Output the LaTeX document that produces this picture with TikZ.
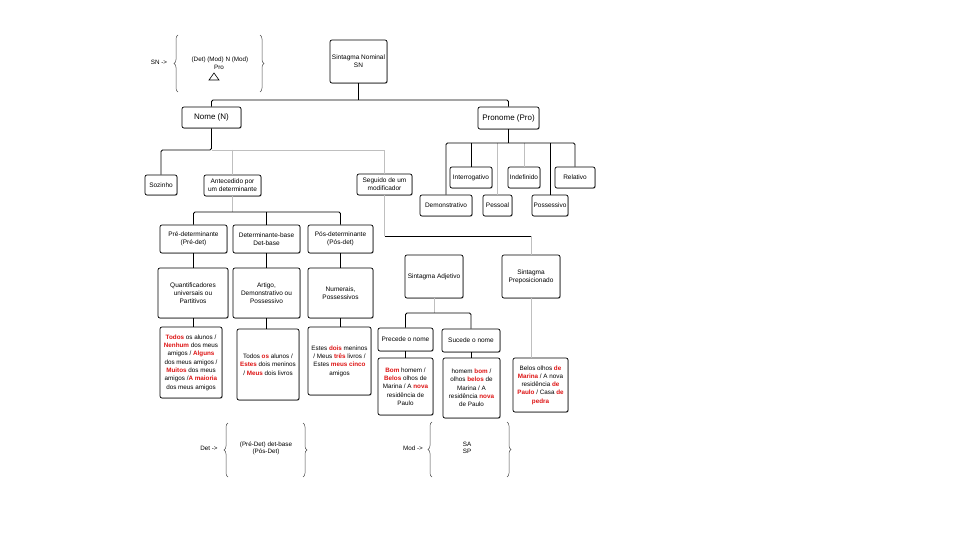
\documentclass[tikz,border=0pt]{standalone}
\usepackage{fontspec}
\setmainfont{Liberation Sans}
\usetikzlibrary{decorations.pathreplacing,shadows}
\definecolor{hlred}{RGB}{222,20,20}
\newcommand{\rdw}[1]{\textcolor{hlred}{\textbf{#1}}}
\begin{document}
\begin{tikzpicture}[x=1pt,y=-1pt,
  box/.style={draw=black, line width=0.7pt, rounded corners=2pt, align=center, inner sep=1pt,
    font=\fontsize{6.5}{7.8}\selectfont, fill=white,
    drop shadow={shadow xshift=0.7pt, shadow yshift=-0.7pt, opacity=0.35, fill=black}},
  bigbox/.style={box, font=\fontsize{8}{9.5}\selectfont},
  exbox/.style={box, font=\fontsize{6.3}{8.3}\selectfont},
  txt/.style={inner sep=0pt, align=center, font=\fontsize{6.3}{7}\selectfont},
  edge/.style={draw=black, line width=0.8pt, rounded corners=1.5pt},
  gedge/.style={draw=black!25, line width=0.6pt},
  brc/.style={draw=black!70, line width=0.5pt, decorate, decoration={brace, amplitude=4pt}}]
\fill[white] (0,0) rectangle (960,540);
\useasboundingbox (0,0) rectangle (960,540);

% top formula
\node[txt] (snlab) at (159,62) {SN ->};
\draw[brc] (178,92) -- (178,35);
\draw[brc] (260,35) -- (260,92);
\node[txt] (snform) at (220,60) {(Det) (Mod) N (Mod)};
\node[txt] (snpro) at (219,67.5) {Pro};
\draw[line width=0.6pt] (209,80) -- (214,73) -- (219,80) -- cycle;

% boxes
\node[box, minimum width=57pt, minimum height=43pt] (sn) at (358.5,61.5) {Sintagma Nominal\\SN};
\node[bigbox, minimum width=59pt, minimum height=21pt] (nome) at (211.5,117.5) {Nome (N)};
\node[bigbox, minimum width=61pt, minimum height=22pt] (pro) at (508.5,118) {Pronome (Pro)};

\node[box, minimum width=32pt, minimum height=20pt] (soz) at (161,185) {Sozinho};
\node[box, minimum width=57pt, minimum height=21pt] (ant) at (232.5,185.5) {Antecedido por\\um determinante};
\node[box, minimum width=55pt, minimum height=21pt] (seg) at (384.5,184.5) {Seguido de um\\modificador};

\node[box, minimum width=42pt, minimum height=21pt] (inter) at (471,177.5) {Interrogativo};
\node[box, minimum width=32pt, minimum height=21pt] (indef) at (524,177.5) {Indefinido};
\node[box, minimum width=40pt, minimum height=21pt] (rel) at (575,177.5) {Relativo};
\node[box, minimum width=52pt, minimum height=21pt] (dem) at (446,205.5) {Demonstrativo};
\node[box, minimum width=29pt, minimum height=21pt] (pes) at (497.5,205.5) {Pessoal};
\node[box, minimum width=36pt, minimum height=21pt] (poss) at (550,205.5) {Possessivo};

\node[box, minimum width=67pt, minimum height=28pt] (pre) at (193.5,239) {Pré-determinante\\(Pré-det)};
\node[box, minimum width=67pt, minimum height=28pt] (detb) at (266.5,239) {Determinante-base\\Det-base};
\node[box, minimum width=65pt, minimum height=28pt] (pos) at (340.5,239) {Pós-determinante\\(Pós-det)};

\node[box, minimum width=70pt, minimum height=50pt] (quant) at (193,293) {Quantificadores\\universais ou\\Partitivos};
\node[box, minimum width=67pt, minimum height=50pt] (art) at (266.5,293) {Artigo,\\Demonstrativo ou\\Possessivo};
\node[box, minimum width=65pt, minimum height=50pt] (num) at (340.5,293) {Numerais,\\Possessivos};

\node[exbox, minimum width=62pt, minimum height=71pt] (ex1) at (191,362.5)
  {\rdw{Todos} os alunos /\\\rdw{Nenhum} dos meus\\amigos / \rdw{Alguns}\\dos meus amigos /\\\rdw{Muitos} dos meus\\amigos /\rdw{A maioria}\\dos meus amigos};
\node[exbox, minimum width=62pt, minimum height=71pt] (ex2) at (268,364.5)
  {Todos \rdw{os} alunos /\\\rdw{Estes} dois meninos\\/ \rdw{Meus} dois livros};
\node[exbox, minimum width=63pt, minimum height=68pt] (ex3) at (339.5,361)
  {Estes \rdw{dois} meninos\\/ Meus \rdw{três} livros /\\Estes \rdw{meus cinco}\\amigos};

\node[box, minimum width=58pt, minimum height=43pt] (sa) at (434,276.5) {Sintagma Adjetivo};
\node[box, minimum width=58pt, minimum height=43pt] (sp) at (531,276.5) {Sintagma\\Preposicionado};
\node[box, minimum width=55pt, minimum height=23pt] (prec) at (405.5,339.5) {Precede o nome};
\node[box, minimum width=58pt, minimum height=23pt] (suc) at (471,340.5) {Sucede o nome};

\node[exbox, minimum width=55pt, minimum height=57pt] (ex4) at (405.5,386.5)
  {\rdw{Bom} homem /\\\rdw{Belos} olhos de\\Marina / A \rdw{nova}\\residência de\\Paulo};
\node[exbox, minimum width=57pt, minimum height=60pt] (ex5) at (471.5,388)
  {homem \rdw{bom} /\\olhos \rdw{belos} de\\Marina / A\\residência \rdw{nova}\\de Paulo};
\node[exbox, minimum width=55pt, minimum height=54pt] (ex6) at (540.5,385)
  {Belos olhos \rdw{de}\\\rdw{Marina} / A nova\\residência \rdw{de}\\\rdw{Paulo} / Casa \rdw{de}\\\rdw{pedra}};

% bottom formulas
\node[txt] (detlab) at (209,448) {Det ->};
\draw[brc] (228,477) -- (228,423);
\draw[brc] (303,423) -- (303,477);
\node[txt] (detform) at (266,448.5) {(Pré-Det) det-base\\(Pós-Det)};
\node[txt] (modlab) at (413,448) {Mod ->};
\draw[brc] (432,477) -- (432,422);
\draw[brc] (507,422) -- (507,477);
\node[txt] (modform) at (467,448) {SA\\SP};

% connectors
\coordinate (yA) at (0,100);
\coordinate (yB) at (0,150);
\coordinate (yC) at (0,212);
\coordinate (yD) at (0,236);
\coordinate (yE) at (0,313);
\coordinate (yF) at (0,143);

\draw[edge] (sn.south) -- (sn.south |- yA);
\draw[edge] (nome.north) -- (nome.north |- yA) -- (pro.north |- yA) -- (pro.north);

\draw[gedge] (nome.south |- yB) -- (seg.north |- yB) -- (seg.north);
\draw[gedge] (ant.north |- yB) -- (ant.north);
\draw[edge] (nome.south) -- (nome.south |- yB) -| (soz.north);

\draw[gedge] (ant.south) -- (ant.south |- yC);
\draw[edge] (pre.north) -- (pre.north |- yC) -- (pos.north |- yC) -- (pos.north);
\draw[edge] (detb.north |- yC) -- (detb.north);
\draw[edge] (pre.south) -- (pre.south |- quant.north);
\draw[edge] (detb.south) -- (detb.south |- art.north);
\draw[edge] (pos.south) -- (pos.south |- num.north);
\draw[edge] (quant.south) -- (quant.south |- ex1.north);
\draw[edge] (art.south) -- (art.south |- ex2.north);
\draw[edge] (num.south) -- (num.south |- ex3.north);

\draw[gedge] (seg.south) -- (seg.south |- yD);
\draw[gedge] (sp.north |- yD) -- (sp.north);
\draw[edge] (seg.south |- yD) -- (sp.north |- yD);

\draw[gedge] (sa.south) -- (sa.south |- yE);
\draw[edge] (prec.north) -- (prec.north |- yE) -- (suc.north |- yE) -- (suc.north);
\draw[edge] (prec.south) -- (prec.south |- ex4.north);
\draw[edge] (suc.south) -- (suc.south |- ex5.north);
\draw[gedge] (sp.south) -- (sp.south |- ex6.north);

\draw[gedge] (pes.north |- yF) -- (pes.north);
\draw[gedge] (indef.north |- yF) -- (indef.north);
\draw[edge] (pro.south) -- (pro.south |- yF);
\draw[edge] (dem.north) -- (dem.north |- yF) -- (rel.north |- yF) -- (rel.north);
\draw[edge] (inter.north |- yF) -- (inter.north);
\draw[edge] (poss.north |- yF) -- (poss.north);
\end{tikzpicture}
\end{document}
